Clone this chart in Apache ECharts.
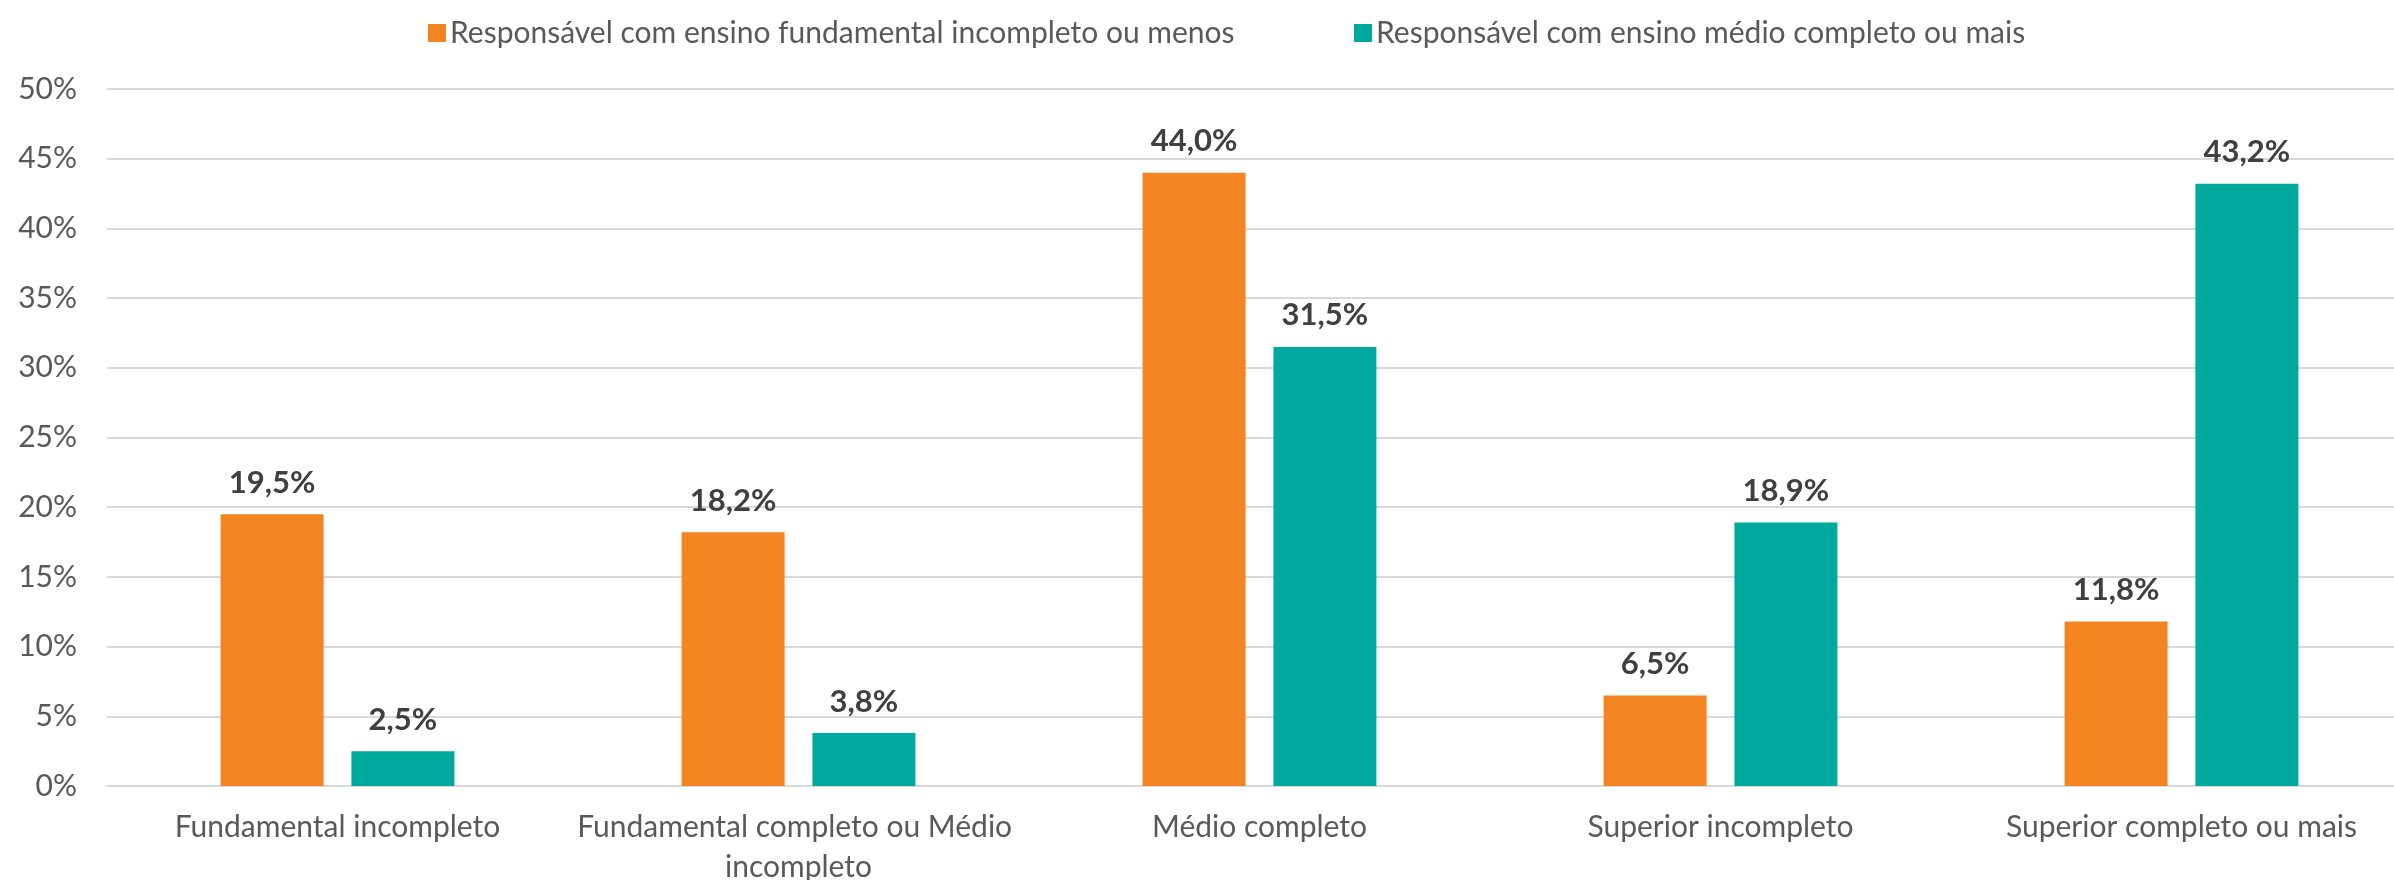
<!DOCTYPE html>
<html>
<head>
<meta charset="utf-8">
<script src="https://cdn.jsdelivr.net/npm/echarts@6/dist/echarts.min.js"></script>
<style>
  html, body { margin: 0; padding: 0; background: #fff; overflow: hidden; }
  #main { width: 2394px; height: 880px; }
</style>
</head>
<body>
<div id="main"></div>
<script>
var categories = ['Fundamental incompleto', 'Fundamental completo ou Médio incompleto', 'Médio completo', 'Superior incompleto', 'Superior completo ou mais'];
var seriesNames = ['Responsável com ensino fundamental incompleto ou menos', 'Responsável com ensino médio completo ou mais'];
var fundValues = [19.5, 18.2, 44.0, 6.5, 11.8];
var medioValues = [2.5, 3.8, 31.5, 18.9, 43.2];

var font = 'Lato';
function pct(p) {
    return p.value.toFixed(1).replace('.', ',') + '%';
}
var labelStyle = {
    show: true,
    position: 'top',
    distance: 16,
    formatter: pct,
    fontFamily: font,
    fontSize: 31,
    fontWeight: 'bold',
    color: '#404040'
};

var myChart = echarts.init(document.getElementById('main'));
var option = {
    animation: false,
    textStyle: { fontFamily: font },
    legend: [
        {
            data: [seriesNames[0]],
            left: 423, top: 13,
            itemWidth: 18, itemHeight: 18, itemGap: 0,
            icon: 'rect',
            textStyle: { fontFamily: font, fontSize: 30, color: '#595959', padding: [0, 0, 0, -1] }
        },
        {
            data: [seriesNames[1]],
            left: 1349, top: 13,
            itemWidth: 18, itemHeight: 18, itemGap: 0,
            icon: 'rect',
            textStyle: { fontFamily: font, fontSize: 30, color: '#595959', padding: [0, 0, 0, -1] }
        }
    ],
    // plot area runs a little past the right edge of the picture
    grid: { left: 107, right: -18, top: 89, bottom: 94, outerBoundsMode: 'none' },
    xAxis: {
        type: 'category',
        data: categories,
        axisLine: { lineStyle: { color: '#d9d9d9', width: 2 } },
        axisTick: { show: false },
        axisLabel: {
            fontFamily: font,
            fontSize: 30,
            color: '#595959',
            margin: 21,
            lineHeight: 40,
            width: 500,
            overflow: 'break',
            interval: 0
        }
    },
    yAxis: {
        type: 'value',
        min: 0,
        max: 50,
        interval: 5,
        axisLine: { show: false },
        axisTick: { show: false },
        splitLine: { lineStyle: { color: '#d9d9d9', width: 2 } },
        axisLabel: {
            formatter: '{value}%',
            fontFamily: font,
            fontSize: 30,
            color: '#595959',
            margin: 30
        }
    },
    series: [
        {
            name: seriesNames[0],
            type: 'bar',
            data: fundValues,
            barWidth: 103,
            barGap: '27%',
            itemStyle: { color: '#F48322' },
            label: labelStyle
        },
        {
            name: seriesNames[1],
            type: 'bar',
            data: medioValues,
            barWidth: 103,
            barGap: '27%',
            itemStyle: { color: '#00A99D' },
            label: labelStyle
        }
    ]
};
myChart.setOption(option);
</script>
</body>
</html>
